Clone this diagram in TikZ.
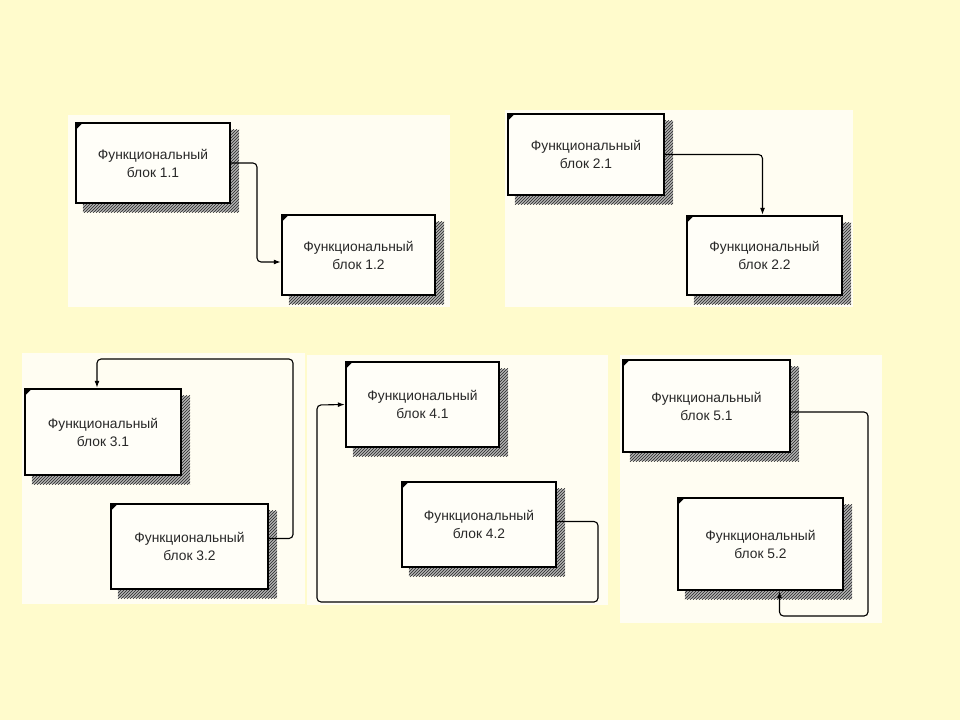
\documentclass[tikz,border=0pt]{standalone}
\usepackage{fontspec}
\setmainfont{Liberation Sans}
\usetikzlibrary{patterns,arrows.meta}
\definecolor{pagebg}{RGB}{255,251,204}
\definecolor{panelbg}{RGB}{255,253,242}
\definecolor{boxfill}{RGB}{255,254,248}
\definecolor{txt}{RGB}{40,40,40}
\pgfdeclarelayer{bg}
\pgfdeclarelayer{sh}
\pgfsetlayers{bg,sh,main}
\tikzset{
  blk/.style={draw=black, line width=2.4pt, fill=boxfill, align=center, inner sep=0pt,
    text=txt, font=\fontsize{13.8}{18}\selectfont},
  conn/.style={draw=black, line width=1.1pt, rounded corners=4pt, -{Latex[length=7pt,width=5pt]}},
  panel/.style={fill=panelbg},
  shadowfill/.style={fill=black!30},
  shadowpat/.style={pattern=north east lines, pattern color=black!85},
  corner/.style={fill=black}
}
\newcommand\fblock[6]{%
  \node[blk, minimum width=#4pt, minimum height=#5pt] (#1) at (#2,#3) {Функциональный\\блок #6};
  \begin{pgfonlayer}{sh}
    \fill[shadowfill] ([shift={(8,8)}]#1.north west) rectangle ([shift={(8,8)}]#1.south east);
    \fill[shadowpat] ([shift={(8,8)}]#1.north west) rectangle ([shift={(8,8)}]#1.south east);
  \end{pgfonlayer}
  \fill[corner] ([shift={(1,1)}]#1.north west) -- ++(7,0) -- ++(-7,7) -- cycle;
}
\begin{document}
\begin{tikzpicture}[x=1pt,y=-1pt]
\useasboundingbox (0,0) rectangle (960,720);
\begin{pgfonlayer}{bg}
  \fill[pagebg] (0,0) rectangle (960,720);
  \fill[panel] (68,115) rectangle (450,307);
  \fill[panel] (505,110) rectangle (853,307);
  \fill[panel] (22,353) rectangle (305,604);
  \fill[panel] (307,355) rectangle (608,605);
  \fill[panel] (620,355) rectangle (882,623);
\end{pgfonlayer}
\fblock{b11}{153}{163}{154}{80}{1.1}
\fblock{b12}{358.5}{255}{153}{80}{1.2}
\fblock{b21}{586}{154.5}{156}{81}{2.1}
\fblock{b22}{764.5}{255.5}{155}{79}{2.2}
\fblock{b31}{103}{432}{156}{86}{3.1}
\fblock{b32}{189.5}{546.5}{157}{85}{3.2}
\fblock{b41}{422.5}{404.5}{153}{85}{4.1}
\fblock{b42}{479}{524.5}{154}{85}{4.2}
\fblock{b51}{706.5}{406}{167}{92}{5.1}
\fblock{b52}{760.5}{544}{165}{92}{5.2}
\coordinate (c1) at (257,200);
\coordinate (c3) at (293,359);
\coordinate (c4a) at (598,602);
\coordinate (c4b) at (317,405);
\coordinate (c5) at (868,616);
\draw[conn] (b11.east) -| (c1) |- ([yshift=-7pt]b12.west);
\draw[conn] (b21.east) -| ([xshift=-2pt]b22.north);
\draw[conn] ([yshift=8pt]b32.east) -| (c3) -| ([xshift=-6pt]b31.north);
\draw[conn] ([yshift=3pt]b42.east) -| (c4a) -| (c4b) -- (b41.west);
\draw[conn] ([yshift=-6pt]b51.east) -| (c5) -| ([xshift=19pt]b52.south);
\end{tikzpicture}
\end{document}
